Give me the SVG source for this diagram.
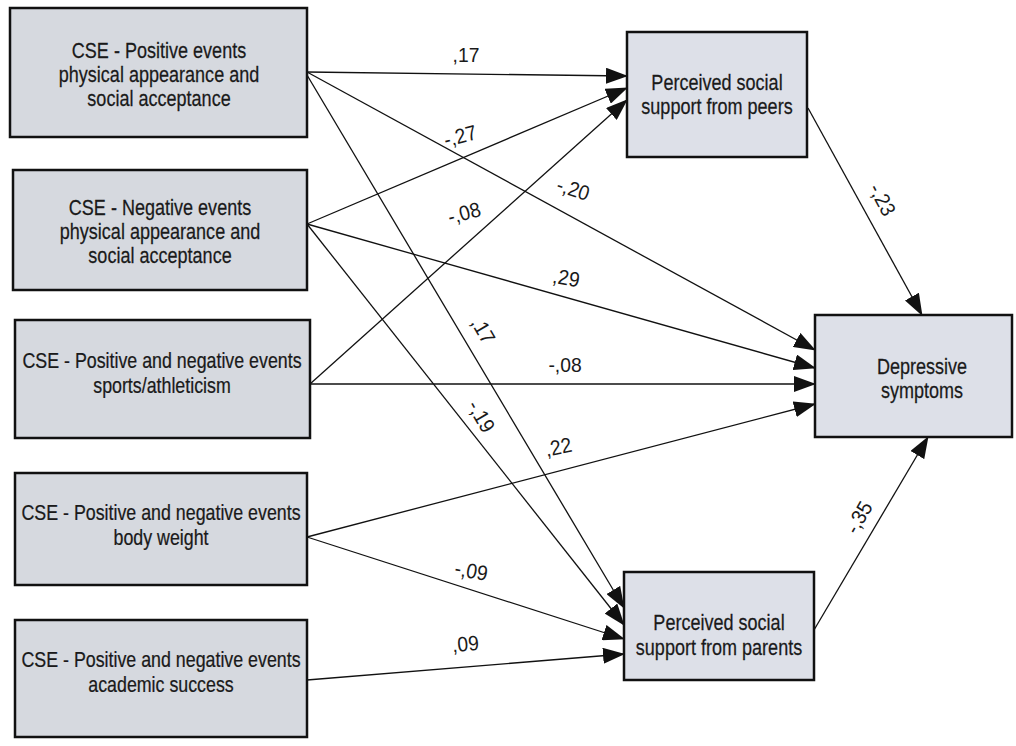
<svg xmlns="http://www.w3.org/2000/svg" width="1016" height="746" viewBox="0 0 1016 746">
<style>
.box{fill:#d6d9df;stroke:#111;stroke-width:2.5}
.rbox{fill:#dde0e8;stroke:#111;stroke-width:2.5}
.t{font-family:"Liberation Sans",Arial,sans-serif;font-size:22px;fill:#1a1a1a;text-anchor:middle;stroke:#1a1a1a;stroke-width:0.25}
.lbl{font-family:"Liberation Sans",Arial,sans-serif;font-size:21px;fill:#1a1a1a;text-anchor:middle}
.c{stroke:#111;stroke-width:1.3;fill:none;marker-end:url(#ah)}
</style>
<defs>
<marker id="ah" markerUnits="userSpaceOnUse" markerWidth="22" markerHeight="16" refX="21" refY="8" orient="auto">
<path d="M0,0 L22,8 L0,16 Z" fill="#111"/>
</marker>
</defs>
<rect width="1016" height="746" fill="#fff"/>
<g id="connectors">
<line class="c" x1="307" y1="72" x2="627" y2="76"/>
<line class="c" x1="307" y1="72" x2="815" y2="350"/>
<line class="c" x1="307" y1="75" x2="624" y2="608"/>
<line class="c" x1="307" y1="224" x2="627" y2="88"/>
<line class="c" x1="307" y1="224" x2="815" y2="368"/>
<line class="c" x1="307" y1="224" x2="624" y2="625"/>
<line class="c" x1="310" y1="384" x2="627" y2="100"/>
<line class="c" x1="310" y1="384" x2="815" y2="384"/>
<line class="c" x1="307" y1="537" x2="815" y2="404"/>
<line class="c" x1="307" y1="537" x2="624" y2="639"/>
<line class="c" x1="307" y1="680" x2="624" y2="654"/>
<line class="c" x1="808" y1="108" x2="922" y2="315"/>
<line class="c" x1="814" y1="630" x2="928" y2="437"/>
<text class="lbl" transform="translate(466,62) scale(0.92,1)">,17</text>
<text class="lbl" transform="translate(462,143) rotate(-15) scale(0.92,1)">-,27</text>
<text class="lbl" transform="translate(571,196) rotate(18) scale(0.92,1)">-,20</text>
<text class="lbl" transform="translate(466,220) rotate(-15) scale(0.92,1)">-,08</text>
<text class="lbl" transform="translate(565,285) rotate(10) scale(0.92,1)">,29</text>
<text class="lbl" transform="translate(477,334) rotate(60) scale(0.92,1)">,17</text>
<text class="lbl" transform="translate(565,372) scale(0.92,1)">-,08</text>
<text class="lbl" transform="translate(475,420) rotate(60) scale(0.92,1)">-,19</text>
<text class="lbl" transform="translate(560,454) rotate(-12) scale(0.92,1)">,22</text>
<text class="lbl" transform="translate(470,578) rotate(10) scale(0.92,1)">-,09</text>
<text class="lbl" transform="translate(466,651) rotate(-5) scale(0.92,1)">,09</text>
<text class="lbl" transform="translate(876,203) rotate(62) scale(0.92,1)">-,23</text>
<text class="lbl" transform="translate(865,521) rotate(-60) scale(0.92,1)">-,35</text>
</g>
<g id="n1">
<rect class="box" x="10" y="8" width="297" height="129"/>
<g transform="translate(159,0) scale(0.82,1)">
<text class="t" x="0" y="58">CSE - Positive events</text>
<text class="t" x="0" y="82">physical appearance and</text>
<text class="t" x="0" y="106">social acceptance</text>
</g>
</g>
<g id="n2">
<rect class="box" x="13" y="170" width="294" height="120"/>
<g transform="translate(160,0) scale(0.82,1)">
<text class="t" x="0" y="215">CSE - Negative events</text>
<text class="t" x="0" y="239">physical appearance and</text>
<text class="t" x="0" y="263">social acceptance</text>
</g>
</g>
<g id="n3">
<rect class="box" x="15" y="320" width="295" height="118"/>
<g transform="translate(162,0) scale(0.81,1)">
<text class="t" x="0" y="368">CSE - Positive and negative events</text>
<text class="t" x="0" y="393">sports/athleticism</text>
</g>
</g>
<g id="n4">
<rect class="box" x="15" y="473" width="292" height="112"/>
<g transform="translate(161,0) scale(0.81,1)">
<text class="t" x="0" y="520">CSE - Positive and negative events</text>
<text class="t" x="0" y="545">body weight</text>
</g>
</g>
<g id="n5">
<rect class="box" x="15" y="620" width="292" height="117"/>
<g transform="translate(161,0) scale(0.81,1)">
<text class="t" x="0" y="667">CSE - Positive and negative events</text>
<text class="t" x="0" y="692">academic success</text>
</g>
</g>
<g id="peers">
<rect class="rbox" x="627" y="32" width="180" height="125"/>
<g transform="translate(717,0) scale(0.82,1)">
<text class="t" x="0" y="90">Perceived social</text>
<text class="t" x="0" y="114">support from peers</text>
</g>
</g>
<g id="parents">
<rect class="rbox" x="624" y="572" width="190" height="108"/>
<g transform="translate(719,0) scale(0.82,1)">
<text class="t" x="0" y="630">Perceived social</text>
<text class="t" x="0" y="655">support from parents</text>
</g>
</g>
<g id="depressive">
<rect class="rbox" x="815" y="315" width="197" height="122"/>
<g transform="translate(922,0) scale(0.82,1)">
<text class="t" x="0" y="374">Depressive</text>
<text class="t" x="0" y="398">symptoms</text>
</g>
</g>
</svg>
